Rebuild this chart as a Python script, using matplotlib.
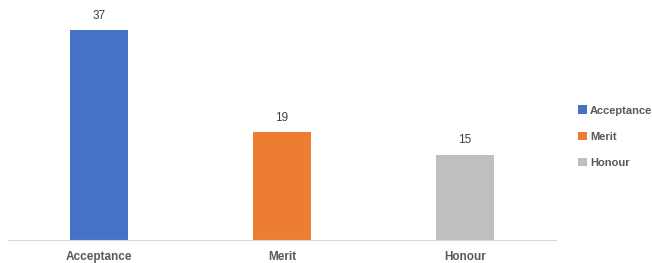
import matplotlib.pyplot as plt

# данні з графіка
categories = ['Acceptance', 'Merit', 'Honour']
values = [37, 19, 15]
colors = ['#4472C4', '#ED7D31', '#BFBFBF']

plt.rcParams['font.family'] = ['Liberation Sans', 'DejaVu Sans']

fig = plt.figure(figsize=(6.52, 2.63), dpi=100)
ax = fig.add_axes([0.0123, 0.0875, 0.8405, 0.8631])

x = range(len(categories))
bars = ax.bar(x, values, width=0.317, color=colors, label=categories)

for b, v in zip(bars, values):
    ax.text(b.get_x() + b.get_width() / 2, v + 1.5, str(v),
            ha='center', va='bottom', fontsize=8.5, color='#404040')

ax.set_xlim(-0.5, len(categories) - 0.5)
ax.set_ylim(0, 40)
ax.set_yticks([])
ax.set_xticks(list(x))
ax.set_xticklabels(categories, fontsize=8.5, fontweight='bold', color='#595959')
ax.tick_params(axis='x', length=0, pad=8)
for s in ['top', 'right', 'left']:
    ax.spines[s].set_visible(False)
ax.spines['bottom'].set_color('#D9D9D9')

# легенда праворуч
leg = ax.legend(handles=list(bars), labels=categories, loc='center left',
                bbox_to_anchor=(1.04, 0.455), frameon=False, borderpad=0,
                borderaxespad=0, handlelength=0.8, handleheight=0.8,
                handletextpad=0.3, labelspacing=1.45,
                prop={'size': 8, 'weight': 'bold'})
for t in leg.get_texts():
    t.set_color('#595959')

fig.savefig('out.png', dpi=100)
